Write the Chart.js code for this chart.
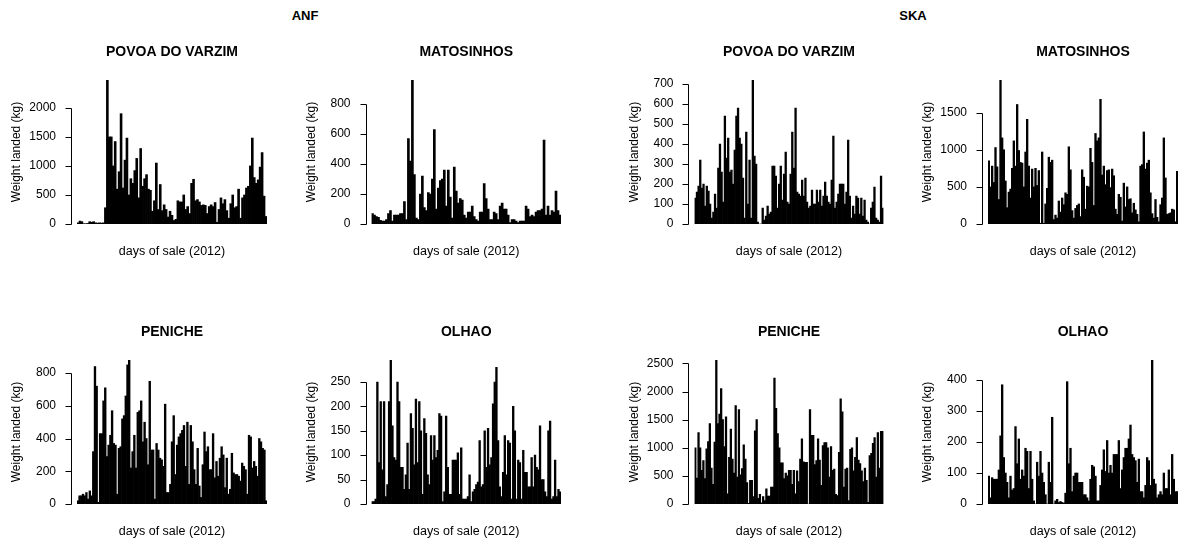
<!DOCTYPE html>
<html>
<head>
<meta charset="utf-8">
<title>Weight landed per day of sale (2012)</title>
<script src="https://cdn.jsdelivr.net/npm/chart.js@4.4.1/dist/chart.umd.min.js"></script>
<style>
  body {
    margin: 0;
    background: #fff;
    width: 1178px;
    height: 543px;
    overflow: hidden;
    position: relative;
    font-family: "Liberation Sans", Arial, sans-serif;
  }
  canvas { position: absolute; }
  .species {
    position: absolute;
    top: 8px;
    line-height: 15px;
    font-size: 13px;
    font-weight: bold;
    transform: translateX(-50%);
  }
</style>
</head>
<body>
<div class="species" style="left:305px">ANF</div>
<div class="species" style="left:913px">SKA</div>
<canvas id="anf-povoa"></canvas>
<canvas id="anf-matosinhos"></canvas>
<canvas id="ska-povoa"></canvas>
<canvas id="ska-matosinhos"></canvas>
<canvas id="anf-peniche"></canvas>
<canvas id="anf-olhao"></canvas>
<canvas id="ska-peniche"></canvas>
<canvas id="ska-olhao"></canvas>
<script>
// Peso desembarcado (kg) por dia de venda, 2012
const anfPovoa = [20, 50, 40, 5, 5, 10, 40, 30, 40, 20, 15, 20, 15, 20, 280, 2480, 1500, 1500, 1000, 1420,
  600, 900, 1900, 620, 1100, 1480, 500, 780, 700, 920, 1130, 450, 1300, 650, 780, 850, 600, 580, 220, 400,
  1050, 250, 680, 230, 330, 250, 120, 220, 150, 60, 80, 400, 380, 380, 500, 250, 300, 180, 700, 770,
  400, 420, 380, 320, 330, 320, 180, 300, 330, 300, 370, 30, 250, 450, 350, 420, 230, 100, 350, 500,
  280, 300, 600, 100, 450, 500, 620, 650, 1000, 1480, 800, 700, 760, 980, 1230, 480, 130];
const anfMatosinhos = [70, 60, 50, 45, 25, 20, 20, 30, 70, 90, 20, 60, 60, 60, 70, 70, 150, 30, 570, 420,
  960, 330, 40, 30, 200, 320, 110, 90, 210, 200, 300, 630, 100, 240, 290, 300, 360, 120, 360, 180,
  40, 380, 220, 140, 170, 160, 60, 40, 80, 80, 120, 50, 30, 20, 80, 80, 270, 170, 100, 30,
  30, 80, 70, 30, 120, 140, 100, 100, 60, 10, 30, 30, 20, 10, 20, 20, 20, 120, 100, 50,
  60, 50, 80, 90, 90, 100, 560, 60, 120, 60, 90, 80, 220, 90, 60];
const skaPovoa = [130, 160, 190, 320, 180, 200, 90, 190, 165, 100, 30, 60, 150, 80, 280, 400, 260, 110, 540, 330,
  430, 260, 270, 200, 370, 540, 580, 430, 400, 230, 30, 460, 100, 320, 30, 720, 340, 300, 10, 0,
  0, 80, 20, 40, 90, 50, 60, 290, 290, 240, 80, 200, 290, 120, 250, 360, 110, 100, 250, 460,
  280, 580, 160, 150, 140, 220, 140, 230, 110, 80, 90, 170, 100, 100, 170, 110, 170, 90, 140, 210,
  140, 110, 100, 220, 440, 80, 110, 150, 200, 200, 200, 100, 160, 420, 140, 30, 90, 50, 140, 130,
  50, 130, 40, 120, 20, 10, 0, 80, 110, 185, 30, 20, 10, 240, 80];
const skaMatosinhos = [850, 500, 780, 560, 1030, 770, 330, 1940, 1160, 1000, 580, 220, 430, 470, 750, 1120, 780, 1610, 990, 830,
  820, 500, 970, 1410, 780, 350, 740, 500, 750, 520, 720, 10, 970, 10, 270, 480, 900, 830, 860, 60,
  120, 80, 310, 160, 350, 260, 420, 400, 1040, 730, 180, 80, 210, 250, 270, 100, 730, 630, 200, 510,
  500, 1020, 830, 250, 1220, 1120, 1160, 1680, 660, 780, 530, 720, 730, 490, 740, 650, 200, 130, 400, 360,
  40, 550, 230, 500, 330, 340, 150, 280, 190, 130, 30, 780, 800, 1240, 740, 820, 860, 420, 140, 80,
  330, 90, 30, 260, 350, 1160, 620, 130, 140, 150, 200, 190, 30, 710];
const anfPeniche = [20, 50, 50, 60, 50, 70, 30, 80, 50, 320, 840, 720, 10, 430, 430, 630, 710, 290, 360, 420,
  570, 370, 360, 60, 340, 350, 520, 540, 660, 850, 880, 220, 320, 420, 220, 560, 570, 630, 380, 500,
  400, 240, 750, 330, 330, 30, 370, 330, 280, 270, 230, 610, 70, 70, 120, 380, 540, 180, 360, 410,
  430, 450, 480, 230, 500, 120, 480, 380, 210, 120, 340, 110, 40, 240, 440, 320, 350, 210, 210, 430,
  160, 260, 170, 280, 350, 300, 100, 280, 60, 90, 310, 190, 180, 180, 170, 140, 250, 230, 210, 60,
  420, 410, 220, 260, 230, 170, 400, 380, 340, 330, 20];
const anfOlhao = [5, 5, 10, 250, 85, 210, 70, 210, 15, 40, 210, 295, 160, 95, 90, 250, 210, 75, 75, 30,
  60, 125, 30, 185, 155, 80, 215, 85, 210, 150, 20, 175, 145, 60, 40, 140, 90, 140, 95, 110,
  185, 180, 5, 25, 180, 75, 20, 20, 90, 90, 90, 105, 20, 115, 10, 10, 10, 15, 60, 5,
  25, 30, 40, 45, 130, 35, 40, 150, 75, 155, 80, 95, 205, 250, 280, 130, 35, 15, 65, 140,
  60, 130, 125, 10, 200, 150, 10, 90, 85, 10, 110, 65, 65, 35, 35, 95, 35, 100, 75, 70,
  160, 50, 50, 25, 15, 150, 170, 10, 15, 90, 15, 30, 25];
const skaPeniche = [1000, 460, 1270, 1000, 600, 770, 450, 980, 1110, 1430, 640, 350, 1100, 2560,
  1430, 1600, 2050, 1500, 1020, 1550, 180, 830, 1330, 800, 550, 1750, 480, 1680, 520, 630, 1050, 800, 380,
  10, 420, 420, 130, 1300, 1500, 100, 170, 20, 130, 60, 270, 140, 140, 300, 300, 2240,
  1700, 1250, 1000, 730, 730, 450, 550, 500, 600, 600, 350, 600, 180, 590, 400, 800, 1160, 750, 740, 740,
  0, 1680, 1220, 1220, 700, 770, 1160, 780, 330, 1040, 1090, 1090, 1000, 480, 1020, 600, 620, 170, 150, 920,
  1870, 1640, 300, 620, 640, 60, 970, 1000, 590, 830, 1180, 780, 720, 590, 400, 640, 420, 30, 860, 900,
  1080, 1180, 480, 1270, 640, 1290, 1290];
const skaOlhao = [90, 20, 85, 80, 80, 80, 110, 220, 385, 150, 100, 70, 20, 90, 45, 50, 250, 130, 210, 80,
  110, 90, 180, 170, 50, 170, 80, 10, 0, 135, 90, 170, 100, 70, 30, 0, 135, 70, 280, 0,
  10, 15, 5, 8, 5, 3, 35, 395, 130, 180, 40, 90, 100, 100, 70, 70, 70, 30, 30, 20,
  10, 80, 125, 120, 90, 10, 10, 60, 110, 175, 105, 205, 100, 125, 100, 160, 160, 160, 205, 50,
  110, 150, 180, 180, 210, 255, 160, 150, 140, 70, 145, 40, 40, 20, 60, 150, 140, 60, 465, 80,
  65, 20, 30, 40, 30, 100, 50, 50, 110, 30, 160, 80, 40, 40];

// Marcas do eixo y de cada painel
const ticksAnfPovoa = [0, 500, 1000, 1500, 2000];
const ticksAnfMatosinhos = [0, 200, 400, 600, 800];
const ticksSkaPovoa = [0, 100, 200, 300, 400, 500, 600, 700];
const ticksSkaMatosinhos = [0, 500, 1000, 1500];
const ticksAnfPeniche = [0, 200, 400, 600, 800];
const ticksAnfOlhao = [0, 50, 100, 150, 200, 250];
const ticksSkaPeniche = [0, 500, 1000, 1500, 2000, 2500];
const ticksSkaOlhao = [0, 100, 200, 300, 400];

const FONT = '"Liberation Sans", Arial, sans-serif';
Chart.defaults.font.family = FONT;
Chart.defaults.color = '#000';

// eixo y ao estilo do R: linha só entre a primeira e a última marca, afastada das barras
const rAxis = {
  id: 'rAxis',
  afterDraw(chart) {
    const { ctx, chartArea, scales: { y } } = chart;
    const x = Math.round(chartArea.left - 6) + 0.5;
    const ticks = y.ticks;
    const top = Math.round(y.getPixelForValue(ticks[ticks.length - 1].value)) + 0.5;
    const bottom = Math.round(y.getPixelForValue(ticks[0].value)) + 0.5;
    ctx.save();
    ctx.strokeStyle = '#000';
    ctx.lineWidth = 1;
    ctx.beginPath();
    ctx.moveTo(x, top);
    ctx.lineTo(x, bottom);
    ticks.forEach(t => {
      const py = Math.round(y.getPixelForValue(t.value)) + 0.5;
      ctx.moveTo(x - 6, py);
      ctx.lineTo(x, py);
    });
    ctx.stroke();
    ctx.restore();
  }
};

function makePanel(id, title, values, ticks, row, barStart, barEnd) {
  const canvas = document.getElementById(id);
  const left = Math.floor(barStart - 72);
  const width = Math.ceil(barEnd - left + 5);
  canvas.width = width;
  canvas.height = 270;
  canvas.style.left = left + 'px';
  canvas.style.top = (row === 0 ? 0 : 280) + 'px';

  return new Chart(canvas, {
    type: 'bar',
    data: {
      labels: values.map((v, i) => i + 1),
      datasets: [{
        data: values,
        backgroundColor: '#000',
        borderWidth: 0,
        barPercentage: 1,
        categoryPercentage: 1
      }]
    },
    options: {
      responsive: false,
      animation: false,
      devicePixelRatio: 1,
      events: [],
      layout: {
        padding: {
          left: barStart - 67.2 - left,
          right: width - (barEnd - left),
          top: 0,
          bottom: 11
        }
      },
      plugins: {
        legend: { display: false },
        tooltip: { enabled: false },
        title: {
          display: true,
          text: title,
          fullSize: false,
          color: '#000',
          font: { size: 14, weight: 'bold', lineHeight: 1.2 },
          padding: { top: 43.6, bottom: 19.6 }
        }
      },
      scales: {
        x: {
          grid: { display: false, drawTicks: false },
          border: { display: false },
          ticks: { display: false },
          title: {
            display: true,
            text: 'days of sale (2012)',
            font: { size: 12.5, lineHeight: 1.2 },
            padding: { top: 20, bottom: 0 }
          }
        },
        y: {
          min: 0,
          max: Math.max(...values),
          grid: { display: false, drawTicks: false },
          border: { display: false },
          ticks: {
            padding: 21,
            font: { size: 12 },
            callback: v => String(v)
          },
          afterBuildTicks: scale => { scale.ticks = ticks.map(v => ({ value: v })); },
          afterFit: scale => { scale.width = 67.2; },
          title: {
            display: true,
            text: 'Weight landed (kg)',
            font: { size: 12 },
            padding: 0
          }
        }
      }
    },
    plugins: [rAxis]
  });
}

window.addEventListener('load', () => {
  makePanel('anf-povoa', 'POVOA DO VARZIM', anfPovoa, ticksAnfPovoa, 0, 77, 267);
  makePanel('anf-matosinhos', 'MATOSINHOS', anfMatosinhos, ticksAnfMatosinhos, 0, 371.5, 561);
  makePanel('ska-povoa', 'POVOA DO VARZIM', skaPovoa, ticksSkaPovoa, 0, 694.5, 883.5);
  makePanel('ska-matosinhos', 'MATOSINHOS', skaMatosinhos, ticksSkaMatosinhos, 0, 988, 1178);
  makePanel('anf-peniche', 'PENICHE', anfPeniche, ticksAnfPeniche, 1, 77, 267);
  makePanel('anf-olhao', 'OLHAO', anfOlhao, ticksAnfOlhao, 1, 371.5, 561);
  makePanel('ska-peniche', 'PENICHE', skaPeniche, ticksSkaPeniche, 1, 694.5, 883.5);
  makePanel('ska-olhao', 'OLHAO', skaOlhao, ticksSkaOlhao, 1, 988, 1178);
});
</script>
</body>
</html>
